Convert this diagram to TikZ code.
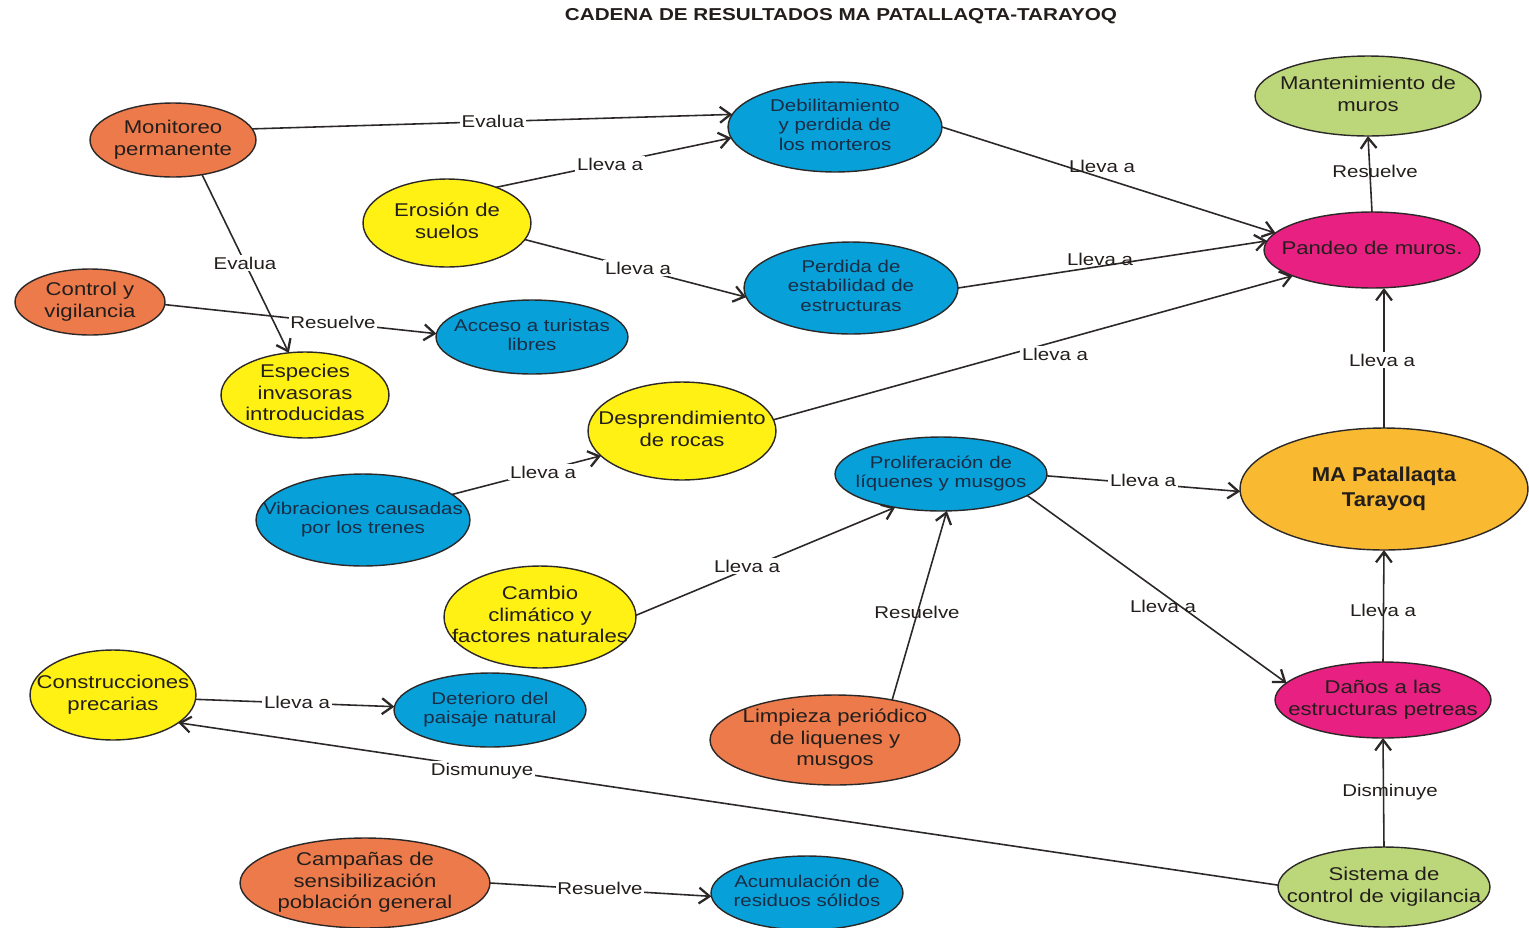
\documentclass[tikz,border=0pt]{standalone}
\usepackage{fontspec}
\setmainfont{Liberation Sans}[FakeStretch=1.2]
\newfontfamily\mafont{Liberation Sans}[FakeStretch=1.1]
\usetikzlibrary{shapes.geometric,arrows.meta}

\definecolor{cOrange}{RGB}{236,122,74}
\definecolor{cYellow}{RGB}{255,241,20}
\definecolor{cBlue}{RGB}{8,160,216}
\definecolor{cPink}{RGB}{231,32,130}
\definecolor{cGreen}{RGB}{188,215,122}
\definecolor{cGold}{RGB}{249,186,50}
\definecolor{cLine}{RGB}{45,40,40}
\definecolor{cInk}{RGB}{35,30,28}
\definecolor{cBlueInk}{RGB}{25,45,70}

% centred multi-line text that does not enlarge the ellipse
\newcommand{\ctr}[1]{\makebox[0pt]{\raisebox{-.25em}[0pt][0pt]{\begin{tabular}{@{}c@{}}#1\end{tabular}}}}

\tikzset{
  x=0.02cm, y=-0.02cm,
  bub/.style={ellipse, draw=cLine, line width=0.8pt, inner sep=0pt, outer sep=0pt,
    text=cInk, font=\fontsize{10.5}{12.4}\selectfont},
  sz/.style 2 args={minimum width=#1*0.04cm, minimum height=#2*0.04cm},
  orangeb/.style={bub, fill=cOrange},
  yellowb/.style={bub, fill=cYellow},
  blueb/.style={bub, fill=cBlue, text=cBlueInk, font=\fontsize{9.7}{11.1}\selectfont},
  pinkb/.style={bub, fill=cPink},
  greenb/.style={bub, fill=cGreen},
  goldb/.style={bub, fill=cGold, font=\mafont\bfseries\fontsize{11.4}{14.2}\selectfont},
  link/.style={draw=cLine, line width=0.9pt},
  arr/.style={link, -{Straight Barb[length=6pt,width=9pt,line width=1.3pt]}},
  lbl/.style={font=\fontsize{9.7}{11}\selectfont, text=cInk, inner sep=1pt},
  gap/.style={lbl, fill=white},
}

\begin{document}
\begin{tikzpicture}
\fill[white] (0,0) rectangle (1529,927);
\useasboundingbox (0,0) rectangle (1529,927);

\node[text=cInk, font=\bfseries\fontsize{9.8}{11}\selectfont] (title) at (841,16)
  {CADENA DE RESULTADOS MA PATALLAQTA-TARAYOQ};

% concepts
\node[orangeb, sz={83}{37}]  (mon) at (173,140) {\ctr{Monitoreo\\permanente}};
\node[orangeb, sz={75}{33}]  (ctl) at (90,302)  {\ctr{Control y\\vigilancia}};
\node[yellowb, sz={84}{43}]  (esp) at (305,395) {\ctr{Especies\\invasoras\\introducidas}};
\node[yellowb, sz={84}{44}]  (ero) at (447,223) {\ctr{Erosión de\\suelos}};
\node[blueb,   sz={96}{37}]  (acc) at (532,337) {\ctr{Acceso a turistas\\libres}};
\node[blueb,   sz={107}{45}] (deb) at (835,127) {\ctr{Debilitamiento\\y perdida de\\los morteros}};
\node[blueb,   sz={107}{46}] (per) at (851,288) {\ctr{Perdida de\\estabilidad de\\estructuras}};
\node[greenb,  sz={113}{40}] (man) at (1368,96) {\ctr{Mantenimiento de\\muros}};
\node[pinkb,   sz={108}{38}] (pan) at (1372,250) {\ctr{Pandeo de muros.}};
\node[yellowb, sz={94}{49}]  (des) at (682,431) {\ctr{Desprendimiento\\de rocas}};
\node[blueb,   sz={107}{46}] (vib) at (363,520) {\ctr{Vibraciones causadas\\por los trenes}};
\node[blueb,   sz={106}{37}] (pro) at (941,474) {\ctr{Proliferación de\\líquenes y musgos}};
\node[goldb,   sz={144}{61}] (ma)  at (1384,489) {\ctr{MA Patallaqta\\Tarayoq}};
\node[yellowb, sz={96}{51}]  (cam) at (540,617) {\ctr{Cambio\\climático y\\factores naturales}};
\node[yellowb, sz={83}{45}]  (cns) at (113,695) {\ctr{Construcciones\\precarias}};
\node[blueb,   sz={96}{37}]  (det) at (490,710) {\ctr{Deterioro del\\paisaje natural}};
\node[orangeb, sz={125}{45}] (lim) at (835,740) {\ctr{Limpieza periódico\\de liquenes y\\musgos}};
\node[pinkb,   sz={108}{38}] (dan) at (1383,700) {\ctr{Daños a las\\estructuras petreas}};
\node[greenb,  sz={106}{40}] (sis) at (1384,887) {\ctr{Sistema de\\control de vigilancia}};
\node[orangeb, sz={125}{45}] (cmp) at (365,883) {\ctr{Campañas de\\sensibilización\\población general}};
\node[blueb,   sz={96}{37}]  (acu) at (807,893) {\ctr{Acumulación de\\residuos sólidos}};

% connectors
\draw[arr] (mon.8)   -- (deb.173);
\draw[arr] (ero.36)  -- (deb.186);
\draw[arr] (ero.-12) -- (per.185);
\draw[arr] (mon.-50) -- (esp.111);
\draw[arr] (ctl.-2)  -- (acc.178);
\draw[arr] (deb.0)   -- (pan.170);
\draw[arr] (per.0)   -- (pan.175);
\draw[arr] (des.7)   -- (pan.198);
\draw[arr] (pan.north) -- (man.south);
\draw[arr] (ma.north)  -- (ma.north |- pan.south);
\draw[arr] (vib.16)  -- (des.197);
\draw[arr] (pro.-1)  -- (ma.181);
\draw[arr] (cam.1)   -- (pro.216);
\draw[arr] (lim.35)  -- (pro.-81);
\draw[arr] (pro.-14) -- (dan.170);
\draw[arr] (dan.north) -- (ma.south);
\draw[arr] (sis.north) -- (dan.south);
\draw[arr] (sis.179) -- (cns.-23);
\draw[arr] (cns.-3)  -- (det.178);
\draw[arr] (cmp.0)   -- (acu.182);

% linking phrases
\node[gap] (l1)  at (493,121)  {Evalua};
\node[gap] (l2)  at (610,164)  {Lleva a};
\node[gap] (l3)  at (638,268)  {Lleva a};
\node[gap] (l4)  at (245,263)  {Evalua};
\node[gap] (l5)  at (333,322)  {Resuelve};
\node[lbl] (l6)  at (1102,166) {Lleva a};
\node[lbl] (l7)  at (1100,259) {Lleva a};
\node[gap] (l8)  at (1055,354) {Lleva a};
\node[lbl] (l9)  at (1375,171) {Resuelve};
\node[gap] (l10) at (1382,360) {Lleva a};
\node[gap] (l11) at (543,472)  {Lleva a};
\node[gap] (l12) at (1143,480) {Lleva a};
\node[gap] (l13) at (747,566)  {Lleva a};
\node[lbl] (l14) at (917,612)  {Resuelve};
\node[lbl] (l15) at (1163,606) {Lleva a};
\node[lbl] (l16) at (1383,610) {Lleva a};
\node[lbl] (l17) at (1390,792) {Disminuye};
\node[gap] (l18) at (482,771)  {Dismunuye};
\node[gap] (l19) at (297,702)  {Lleva a};
\node[gap] (l20) at (600,888)  {Resuelve};
\end{tikzpicture}
\end{document}
